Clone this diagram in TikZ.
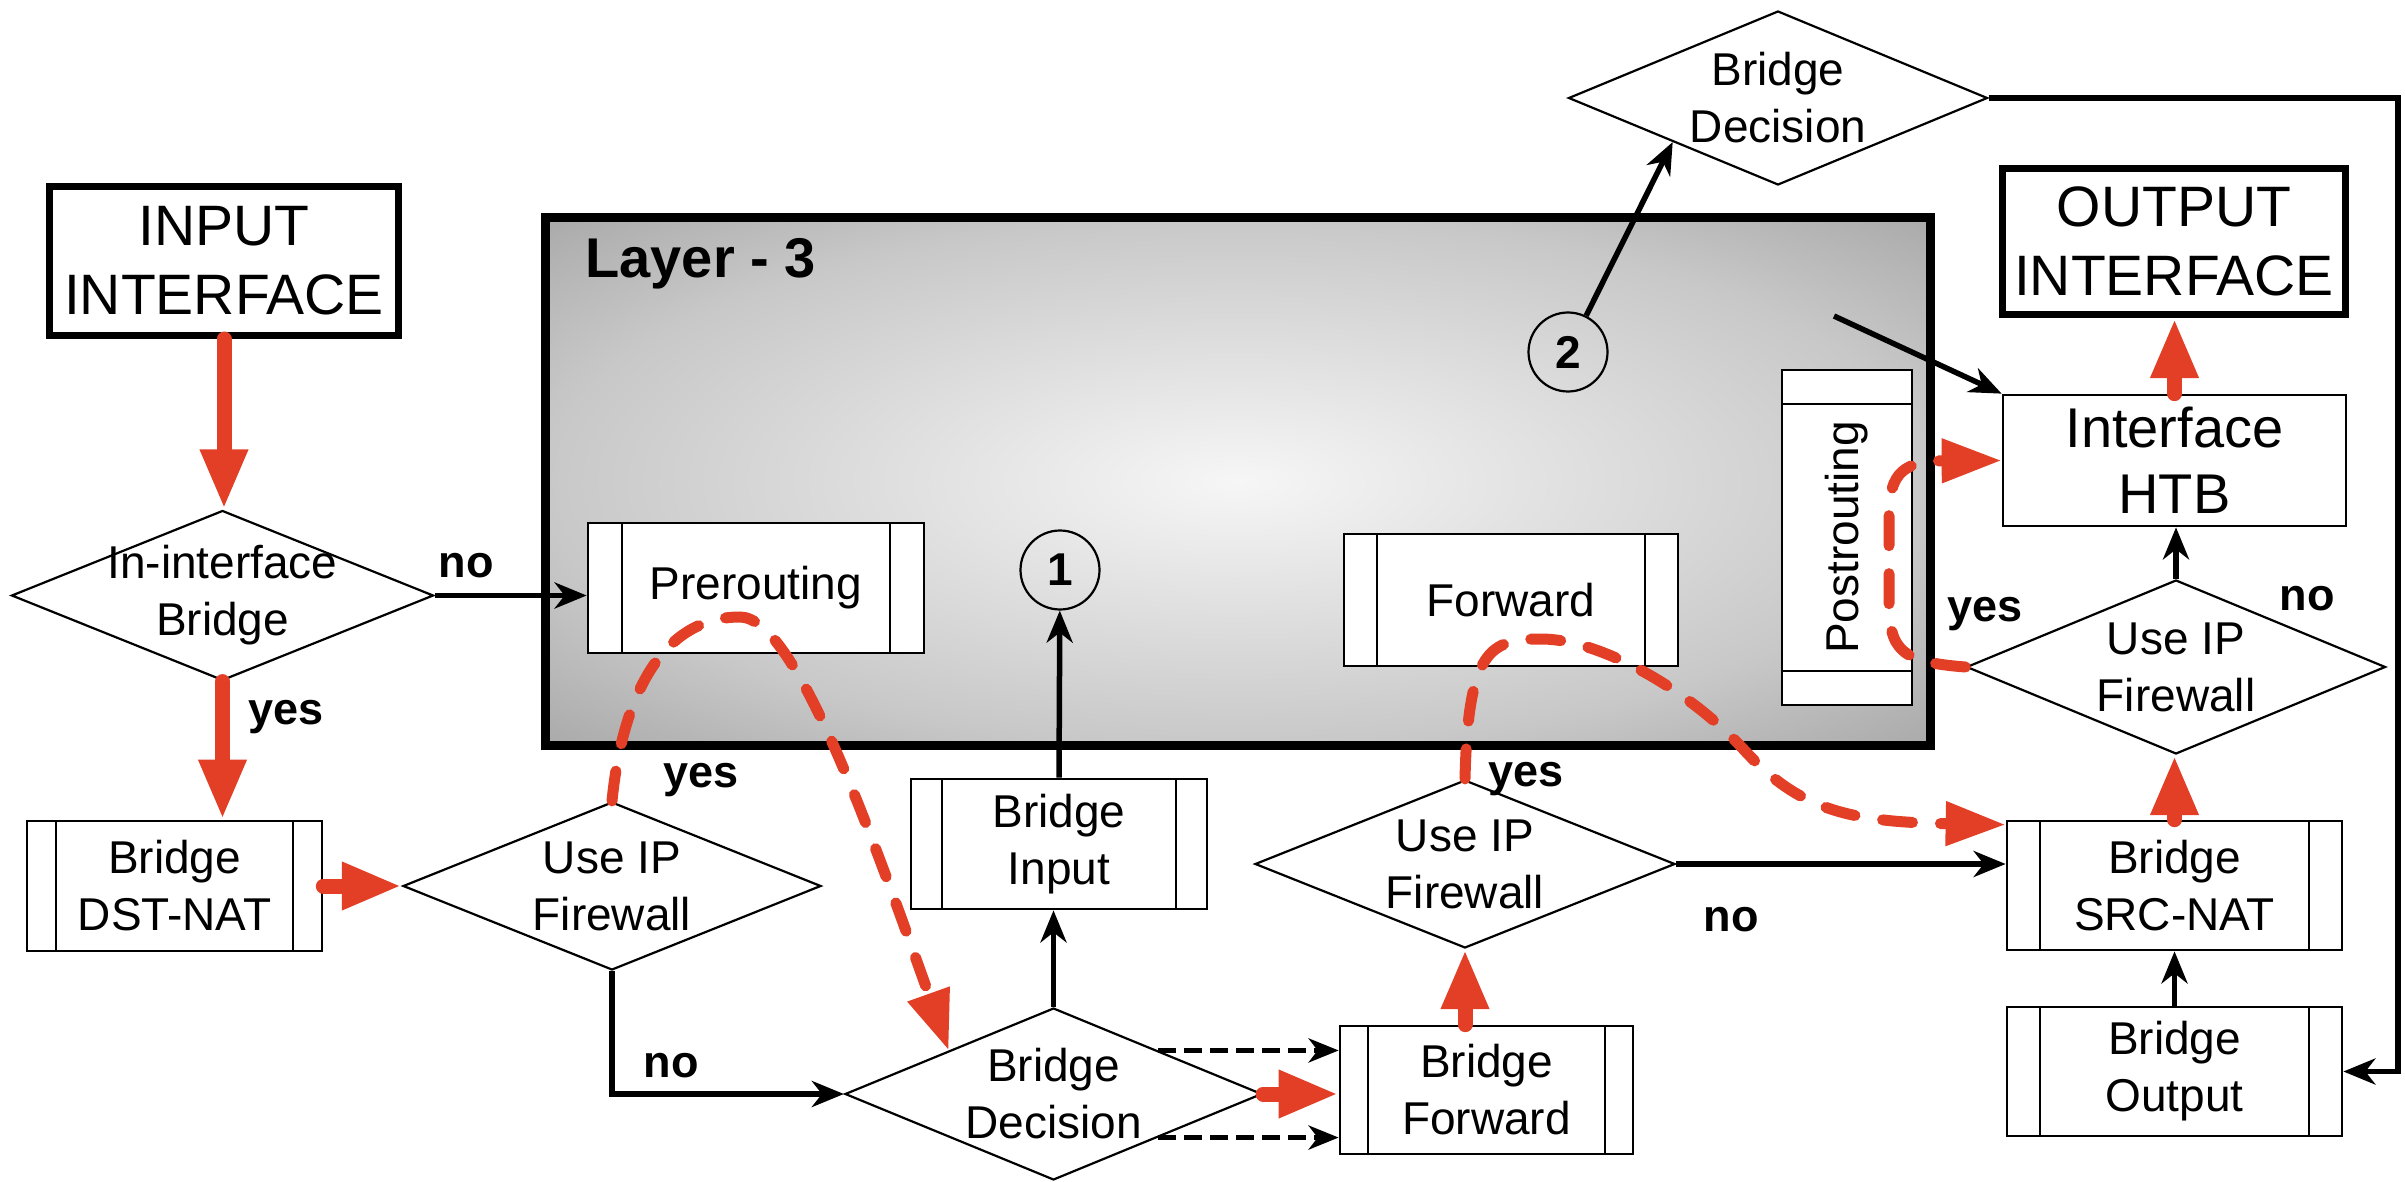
\documentclass[tikz,border=0pt]{standalone}
\usepackage{fontspec}
\setmainfont{Liberation Sans}
\usetikzlibrary{arrows.meta,shapes.geometric,calc}
\definecolor{arrred}{RGB}{226,63,38}
\definecolor{lsA}{RGB}{246,246,246}
\definecolor{lsB}{RGB}{200,200,200}
\definecolor{lsC}{RGB}{168,168,168}
\pgfdeclareradialshading{layershade}{\pgfpointorigin}{color(0bp)=(lsA); color(25bp)=(lsB); color(36bp)=(lsC); color(50bp)=(lsC)}
\tikzset{
  barw/.store in=\barw, barw=16pt,
  nfont/.style={font=\fontsize{23}{28.5}\selectfont},
  lblfont/.style={font=\bfseries\fontsize{22.5}{27}\selectfont},
  iobox/.style={draw, line width=3.5pt, fill=white, inner sep=0pt, align=center,
    font=\fontsize{28.5}{34.5}\selectfont},
  plainbox/.style={draw, line width=1.35pt, fill=white, inner sep=0pt, align=center,
    font=\fontsize{28}{33}\selectfont},
  proc/.style={draw, line width=1.35pt, fill=white, inner sep=0pt, nfont, align=center,
    path picture={
      \draw[line width=1.35pt]
        ([xshift=\barw]path picture bounding box.north west) -- ([xshift=\barw]path picture bounding box.south west)
        ([xshift=-\barw]path picture bounding box.north east) -- ([xshift=-\barw]path picture bounding box.south east);
    }},
  procv/.style={draw, line width=1.35pt, fill=white, inner sep=0pt, nfont, align=center,
    path picture={
      \draw[line width=1.35pt]
        ([yshift=-\barw]path picture bounding box.north west) -- ([yshift=-\barw]path picture bounding box.north east)
        ([yshift=\barw]path picture bounding box.south west) -- ([yshift=\barw]path picture bounding box.south east);
    }},
  dia/.style={diamond, draw, line width=1.1pt, fill=white, inner sep=0pt},
  dlabel/.style={nfont, align=center, inner sep=0pt},
  circ/.style={circle, draw, line width=1.1pt, inner sep=0pt, minimum size=39.5pt,
    font=\bfseries\fontsize{23}{27}\selectfont},
  redarrow/.style={draw=arrred, line width=7.5pt, line cap=round,
    -{Triangle[length=30pt,width=22pt]}},
  reddash/.style={draw=arrred, line width=5.5pt, line cap=round, dash pattern=on 15pt off 14pt,
    -{Triangle[length=30pt,width=21pt]}},
  blackarrow/.style={draw=black, line width=2.75pt, -{Stealth[length=16pt,width=13pt,inset=5pt]}},
  blackdash/.style={draw=black, line width=2.5pt, dash pattern=on 9pt off 4pt,
    -{Stealth[length=15pt,width=12pt,inset=4.5pt]}},
  lbl/.style={lblfont, inner sep=0pt}
}
\begin{document}
\begin{tikzpicture}[x=0.5pt,y=-0.5pt]
\useasboundingbox (0,0) rectangle (2405,1182);

% Layer-3 container
\node[draw, line width=4.5pt, shade, shading=layershade, minimum width=692.5pt, minimum height=263.5pt, inner sep=0pt] (l3) at (1237.5,481.5) {};
\node[anchor=north west, inner sep=0pt, font=\bfseries\fontsize{28}{32}\selectfont] (l3t) at (585,238) {Layer - 3};

% interfaces
\node[iobox, minimum width=174.5pt, minimum height=74.5pt] (inp) at (224,261) {INPUT\\INTERFACE};
\node[iobox, minimum width=171.5pt, minimum height=73pt] (out) at (2174,241.5) {OUTPUT\\INTERFACE};
\node[plainbox, minimum width=171.5pt, minimum height=65.5pt] (htb) at (2174.5,460.5) {Interface\\HTB};

% process boxes
\node[proc, barw=14.5pt, minimum width=147.5pt, minimum height=65pt] (dst) at (174.5,886) {Bridge\\DST-NAT};
\node[proc, barw=17pt, minimum width=168pt, minimum height=65pt] (pre) at (756,588) {Prerouting};
\node[proc, barw=16.5pt, minimum width=167pt, minimum height=66pt] (fwd) at (1511,600) {Forward};
\node[procv, barw=17pt, minimum width=65pt, minimum height=167.5pt,
      label={[nfont, rotate=90, inner sep=0pt]center:Postrouting}] (post) at (1847,537.5) {};
\node[proc, barw=15.5pt, minimum width=148pt, minimum height=65pt] (bi) at (1059,844) {Bridge\\Input};
\node[proc, barw=14pt, minimum width=146.5pt, minimum height=64pt] (bfw) at (1486.5,1090) {Bridge\\Forward};
\node[proc, barw=16.5pt, minimum width=167.5pt, minimum height=64.5pt] (src) at (2174.5,885.5) {Bridge\\SRC-NAT};
\node[proc, barw=16.5pt, minimum width=167.5pt, minimum height=64.5pt] (bout) at (2174.5,1071.5) {Bridge\\Output};

% decisions
\node[dia, minimum width=211pt, minimum height=85pt, label={[dlabel]center:In-interface\\Bridge}] (iib) at (222.5,595.5) {};
\node[dia, minimum width=209pt, minimum height=84pt, label={[dlabel]center:Use IP\\Firewall}] (uip1) at (612,886) {};
\node[dia, minimum width=208.5pt, minimum height=86pt, label={[dlabel]center:Bridge\\Decision}] (bd1) at (1053.5,1094) {};
\node[dia, minimum width=210pt, minimum height=84pt, label={[dlabel]center:Use IP\\Firewall}] (uip2) at (1465,864) {};
\node[dia, minimum width=209.5pt, minimum height=87pt, label={[dlabel]center:Use IP\\Firewall}] (uip3) at (2176,667) {};
\node[dia, minimum width=209.5pt, minimum height=87pt, label={[dlabel]center:Bridge\\Decision}] (bd2) at (1778,98) {};

% numbered circles
\node[circ] (c1) at (1060,570) {1};
\node[circ] (c2) at (1568,352) {2};

% free coordinates
\coordinate (l3out) at (1834,316);
\coordinate (rc) at (2398,98);

% yes/no labels
\node[lbl] (lno1) at (466,566) {no};
\node[lbl] (lyes1) at (286,717) {yes};
\node[lbl] (lyes2) at (701,780) {yes};
\node[lbl] (lno2) at (671,1066) {no};
\node[lbl] (lyes3) at (1526,779) {yes};
\node[lbl] (lno3) at (1731,920) {no};
\node[lbl] (lyes4) at (1985,614) {yes};
\node[lbl] (lno4) at (2307,599) {no};

% black connectors
\draw[blackarrow] (iib.east) -- (iib.east -| pre.west);
\draw[blackarrow] (uip1.south) |- (bd1.west);
\draw[blackarrow] (bd1.north) -- (bd1.north |- bi.south);
\draw[blackarrow] (bi.north) -- (c1);
\draw[blackdash] (bd1.north east) -- (bd1.north east -| bfw.west);
\draw[blackdash] (bd1.south east) -- (bd1.south east -| bfw.west);
\draw[blackarrow] (uip2.east) -- (uip2.east -| src.west);
\draw[blackarrow] (bout.north) -- (bout.north |- src.south);
\draw[blackarrow] (uip3.north) -- (uip3.north |- htb.south);
\draw[blackarrow] (c2) -- (bd2.south west);
\draw[blackarrow] (l3out) -- (htb.north west);
\draw[blackarrow] (bd2.east) -- (rc) |- (bout.east);

% red solid connectors
\draw[redarrow] (inp.south) -- (inp.south |- iib.north);
\draw[redarrow] (iib.south) -- (iib.south |- dst.north);
\draw[redarrow] (dst.east) -- (dst.east -| uip1.west);
\draw[redarrow] (bd1.east) -- (bd1.east -| bfw.west);
\draw[redarrow] (uip2.south |- bfw.north) -- (uip2.south);
\draw[redarrow] (src.north) -- (src.north |- uip3.south);
\draw[redarrow] (htb.north) -- (htb.north |- out.south);

% red dashed connectors
\draw[reddash] (uip1.north) .. controls (622,700) and (660,617) .. (740,617)
  .. controls (795,617) and (870,830) .. (bd1.north west);
\draw[reddash] (uip2.north) .. controls (1468,650) and (1490,639) .. (1541,639)
  .. controls (1600,639) and (1690,690) .. (1746,752)
  .. controls (1800,810) and (1850,822) .. ($(src.north west)+(0,5)$);
\draw[reddash] (uip3.west) .. controls (1900,662) and (1889,650) .. (1889,600)
  -- (1889,515) .. controls (1889,472) and (1905,461) .. (htb.west);
\end{tikzpicture}
\end{document}
